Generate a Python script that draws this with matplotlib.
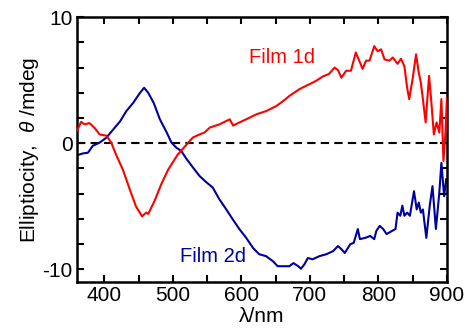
import matplotlib
matplotlib.use("Agg")
import matplotlib.pyplot as plt

plt.rcParams['font.family'] = ['Liberation Sans', 'DejaVu Sans']
plt.rcParams['mathtext.fontset'] = 'custom'
plt.rcParams['mathtext.it'] = 'Liberation Sans:italic'
plt.rcParams['mathtext.rm'] = 'Liberation Sans'
plt.rcParams['axes.unicode_minus'] = False

# Film 1d (red)
wl1 = [360, 366, 371, 378, 386, 393, 403, 410, 417, 427, 437, 446, 455, 461, 464,
       473, 483, 493, 500, 507, 520, 529, 539, 546, 554, 568, 583, 588, 597, 607,
       622, 636, 651, 661, 670, 685, 700, 709, 719, 728, 736, 741, 746, 753, 760,
       767, 772, 777, 782, 787, 794, 799, 804, 809, 816, 821, 828, 833, 838, 842,
       845, 850, 855, 859, 862, 865, 869, 874, 877, 881, 885, 889, 892, 895, 898, 900]
el1 = [0.98, 1.7, 1.5, 1.6, 1.2, 0.7, 0.6, 0.05, -0.9, -2.1, -3.65, -5.0, -5.8, -5.5, -5.6,
       -4.6, -3.25, -2.1, -1.5, -0.9, -0.1, 0.45, 0.7, 0.85, 1.25, 1.5, 1.9, 1.4, 1.65, 1.9,
       2.3, 2.55, 2.95, 3.35, 3.75, 4.3, 4.7, 4.95, 5.3, 5.5, 6.0, 5.8, 5.2, 5.75, 5.75,
       7.2, 6.55, 5.9, 6.55, 6.55, 7.7, 7.3, 7.45, 6.65, 6.55, 6.8, 6.3, 6.7, 6.1, 4.4,
       3.5, 5.1, 7.05, 5.6, 4.8, 3.5, 1.65, 5.35, 3.5, 0.7, 1.65, 0.85, 3.5, -1.4, 0.85, 3.6]

# Film 2d (blue)
wl2 = [360, 369, 376, 383, 393, 403, 413, 423, 432, 442, 452, 458, 464, 472, 481,
       491, 498, 505, 512, 520, 529, 539, 549, 558, 568, 578, 587, 597, 607, 617,
       626, 636, 646, 653, 661, 670, 676, 683, 687, 692, 697, 704, 714, 724, 734,
       741, 746, 751, 759, 764, 770, 773, 781, 788, 794, 797, 802, 807, 812, 820,
       825, 828, 832, 835, 838, 842, 846, 852, 856, 859, 862, 865, 870, 875, 879,
       884, 889, 892, 896, 899]
el2 = [-0.95, -0.8, -0.75, -0.2, 0.05, 0.45, 1.1, 1.75, 2.55, 3.2, 4.0, 4.4, 4.0, 3.2, 1.9,
       0.85, 0.05, -0.35, -0.6, -1.25, -1.9, -2.6, -3.1, -3.5, -4.45, -5.25, -6.0, -6.8, -7.5, -8.3,
       -8.8, -8.95, -9.35, -9.75, -9.75, -9.75, -9.5, -9.75, -9.95, -9.6, -9.1, -9.2, -8.95, -8.8, -8.55,
       -8.15, -8.4, -8.7, -8.0, -7.9, -6.8, -7.6, -7.5, -7.35, -7.6, -6.95, -6.55, -6.8, -7.2, -6.95,
       -6.8, -5.5, -5.75, -4.95, -5.75, -5.5, -5.75, -3.8, -5.25, -4.7, -5.5, -5.25, -7.5, -4.95, -3.4,
       -6.8, -3.9, -1.55, -4.2, -2.85]

xticks = [400, 500, 600, 700, 800, 900]
yticks = [-10, 0, 10]

fig = plt.figure(figsize=(4.65, 3.3), dpi=100)
ax = fig.add_axes([0.1656, 0.1455, 0.7954, 0.8025])

ax.axhline(0, color='black', lw=1.5, ls=(0, (4, 2.5)), zorder=1)
ax.plot(wl1, el1, color='#ff0000', lw=1.5, zorder=3)
ax.plot(wl2, el2, color='#00009c', lw=1.5, zorder=2)

ax.set_xlim(360, 900)
ax.set_ylim(-11, 10)
ax.set_xticks(xticks)
ax.set_yticks(yticks)
ax.set_xticks(range(450, 900, 100), minor=True)
ax.set_yticks([-8, -6, -4, -2, 2, 4, 6, 8], minor=True)
ax.tick_params(which='both', direction='in', length=5, width=1.5,
               top=True, right=True, labelsize=15, pad=3)

for s in ax.spines.values():
    s.set_linewidth(1.8)

ax.set_xlabel('λ/nm', fontsize=15, labelpad=1)
ax.set_ylabel(r'Elliptiocity,  $\theta$ /mdeg', fontsize=15, labelpad=1)

ax.text(660, 6.8, 'Film 1d', color='#ff0000', fontsize=14.5, ha='center', va='center')
ax.text(558, -8.95, 'Film 2d', color='#00009c', fontsize=14.5, ha='center', va='center')

fig.savefig('out.png', dpi=100)
